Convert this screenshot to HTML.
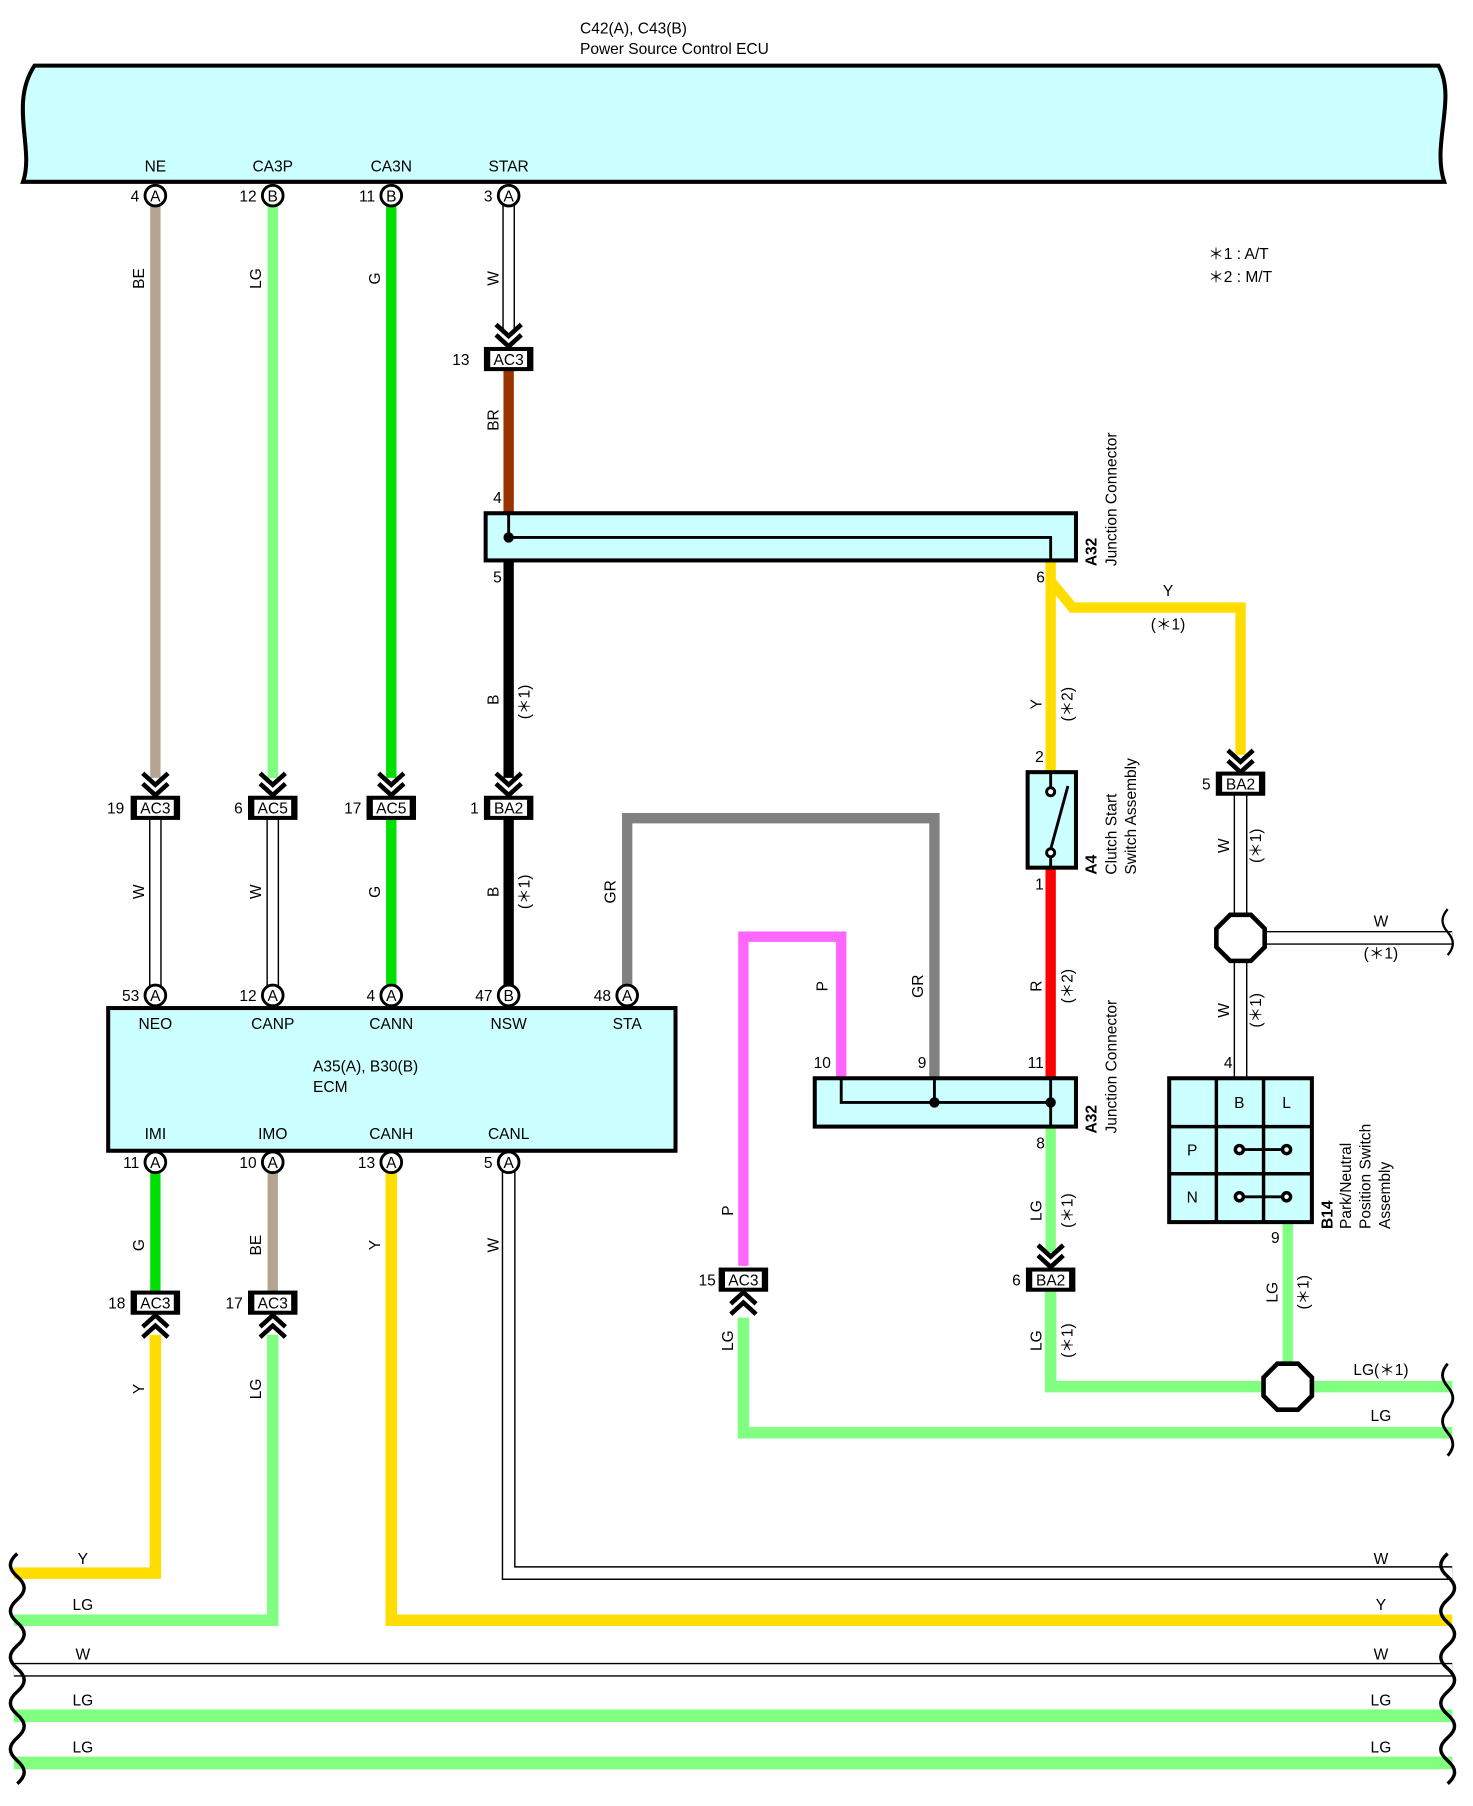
<!DOCTYPE html>
<html><head><meta charset="utf-8"><style>
html,body{margin:0;padding:0;background:#fff;}
svg{display:block;}
text{font-family:"Liberation Sans",sans-serif;font-size:13.5px;fill:#000;}
.c{text-anchor:middle;}
.e{text-anchor:end;}
.b{font-weight:bold;}
</style></head><body>
<svg width="1473" height="1806" viewBox="0 0 1280 1569.4" xmlns="http://www.w3.org/2000/svg">
<defs>
<g id="dn"><path d="M-11,-18 L0,-8 L11,-18 M-11,-9 L0,1 L11,-9" fill="none" stroke="#000" stroke-width="4"/></g>
<g id="up"><path d="M-11,18 L0,8 L11,18 M-11,9 L0,-1 L11,9" fill="none" stroke="#000" stroke-width="4"/></g>
</defs>

<!-- top ECU -->
<path d="M30,57 L1250,57 C1266,85 1244,125 1255,158 L20,158 C30,130 8,90 30,57 Z" fill="#ccffff" stroke="#000" stroke-width="3.5"/>
<text x="504" y="29">C42(A), C43(B)</text>
<text x="504" y="47">Power Source Control ECU</text>
<text x="135" y="149" class="c">NE</text>
<text x="237" y="149" class="c">CA3P</text>
<text x="340" y="149" class="c">CA3N</text>
<text x="442" y="149" class="c">STAR</text>

<text x="1050" y="225">＊1 : A/T</text>
<text x="1050" y="245">＊2 : M/T</text>

<!-- wires top section -->
<g fill="none" stroke-linejoin="miter">
<line x1="135" y1="178" x2="135" y2="676" stroke="#b5a590" stroke-width="9"/>
<line x1="237" y1="178" x2="237" y2="676" stroke="#80ff80" stroke-width="9"/>
<line x1="340" y1="178" x2="340" y2="676" stroke="#00e000" stroke-width="9"/>
<line x1="442" y1="178" x2="442" y2="290" stroke="#000" stroke-width="11"/>
<line x1="442" y1="178" x2="442" y2="290" stroke="#fff" stroke-width="8.5"/>
<line x1="442" y1="322" x2="442" y2="446" stroke="#993300" stroke-width="9"/>
<line x1="442" y1="487" x2="442" y2="676" stroke="#000" stroke-width="9"/>
<line x1="442" y1="711" x2="442" y2="857" stroke="#000" stroke-width="9"/>
<line x1="340" y1="711" x2="340" y2="857" stroke="#00e000" stroke-width="9"/>
<line x1="135" y1="711" x2="135" y2="857" stroke="#000" stroke-width="11"/>
<line x1="135" y1="711" x2="135" y2="857" stroke="#fff" stroke-width="8.5"/>
<line x1="237" y1="711" x2="237" y2="857" stroke="#000" stroke-width="11"/>
<line x1="237" y1="711" x2="237" y2="857" stroke="#fff" stroke-width="8.5"/>
<!-- GR -->
<path d="M545,857 L545,711 L812,711 L812,958" stroke="#808080" stroke-width="9"/>
<!-- P -->
<path d="M646,1100 L646,814 L731,814 L731,958" stroke="#ff66ff" stroke-width="9"/>
<!-- Y -->
<path d="M913,487 L913,670" stroke="#ffdd00" stroke-width="9"/>
<path d="M913,505 L932,528 L1078,528 L1078,656" stroke="#ffdd00" stroke-width="9"/>
<!-- R -->
<line x1="913" y1="754" x2="913" y2="958" stroke="#ff0000" stroke-width="9"/>
<!-- LG right -->
<line x1="913" y1="979" x2="913" y2="1088" stroke="#80ff80" stroke-width="9"/>
<path d="M913,1122 L913,1205 L1262,1205" stroke="#80ff80" stroke-width="10"/>
<line x1="1119" y1="1062" x2="1119" y2="1205" stroke="#80ff80" stroke-width="9"/>
<path d="M646,1145 L646,1245 L1262,1245" stroke="#80ff80" stroke-width="10"/>
<!-- W right -->
<line x1="1078" y1="691" x2="1078" y2="937" stroke="#000" stroke-width="12"/>
<line x1="1078" y1="691" x2="1078" y2="937" stroke="#fff" stroke-width="9.5"/>
<line x1="1078" y1="815" x2="1262" y2="815" stroke="#000" stroke-width="12"/>
<line x1="1078" y1="815" x2="1262" y2="815" stroke="#fff" stroke-width="9.5"/>
<!-- lower ECM wires -->
<line x1="135" y1="1018" x2="135" y2="1122" stroke="#00e000" stroke-width="9"/>
<line x1="237" y1="1018" x2="237" y2="1122" stroke="#b5a590" stroke-width="9"/>
<path d="M135,1160 L135,1367 L12,1367" stroke="#ffdd00" stroke-width="10"/>
<path d="M237,1160 L237,1408 L12,1408" stroke="#80ff80" stroke-width="10"/>
<path d="M340,1018 L340,1408 L1262,1408" stroke="#ffdd00" stroke-width="10"/>
<path d="M442,1018 L442,1367 L1262,1367" stroke="#000" stroke-width="12"/>
<path d="M442,1018 L442,1367 L1262,1367" stroke="#fff" stroke-width="9.5"/>
<line x1="12" y1="1451" x2="1262" y2="1451" stroke="#000" stroke-width="12"/>
<line x1="12" y1="1451" x2="1262" y2="1451" stroke="#fff" stroke-width="9.5"/>
<line x1="12" y1="1491" x2="1262" y2="1491" stroke="#80ff80" stroke-width="11"/>
<line x1="12" y1="1532" x2="1262" y2="1532" stroke="#80ff80" stroke-width="11"/>
</g>
<!-- wavy ends -->
<path d="M15,1350 c-8 7 -8 13 0 20 c8 7 8 13 0 20 c-8 7 -8 13 0 20 c8 7 8 13 0 20 c-8 7 -8 13 0 20 c8 7 8 13 0 20 c-8 7 -8 13 0 20 c8 7 8 13 0 20 c-8 7 -8 13 0 20 c8 7 8 13 0 20" fill="none" stroke="#000" stroke-width="3"/>
<path d="M1258,1350 c-8 7 -8 13 0 20 c8 7 8 13 0 20 c-8 7 -8 13 0 20 c8 7 8 13 0 20 c-8 7 -8 13 0 20 c8 7 8 13 0 20 c-8 7 -8 13 0 20 c8 7 8 13 0 20 c-8 7 -8 13 0 20 c8 7 8 13 0 20" fill="none" stroke="#000" stroke-width="3"/>
<path d="M1258,790 c-6 7 -6 13 0 20 c6 7 6 13 0 20" fill="none" stroke="#000" stroke-width="2"/>
<path d="M1258,1185 c-6 7 -6 13 0 20 c6 7 6 13 0 20 c-6 7 -6 13 0 20 c6 7 6 13 0 20" fill="none" stroke="#000" stroke-width="2.5"/>

<!-- arrows -->
<use href="#dn" x="442" y="300"/>
<use href="#dn" x="135" y="690"/>
<use href="#dn" x="237" y="690"/>
<use href="#dn" x="340" y="690"/>
<use href="#dn" x="442" y="690"/>
<use href="#dn" x="1078" y="670"/>
<use href="#dn" x="913" y="1100"/>
<use href="#up" x="646" y="1124"/>
<use href="#up" x="135" y="1144"/>
<use href="#up" x="237" y="1144"/>

<!-- connector boxes -->
<g stroke="#000">
<g transform="translate(442,312)"><rect x="-21" y="-10" width="42" height="20" fill="#000"/><rect x="-16" y="-7" width="32" height="14" fill="#fff" stroke="none"/></g>
<g transform="translate(135,702)"><rect x="-21" y="-10" width="42" height="20" fill="#000"/><rect x="-16" y="-7" width="32" height="14" fill="#fff" stroke="none"/></g>
<g transform="translate(237,702)"><rect x="-21" y="-10" width="42" height="20" fill="#000"/><rect x="-16" y="-7" width="32" height="14" fill="#fff" stroke="none"/></g>
<g transform="translate(340,702)"><rect x="-21" y="-10" width="42" height="20" fill="#000"/><rect x="-16" y="-7" width="32" height="14" fill="#fff" stroke="none"/></g>
<g transform="translate(442,702)"><rect x="-21" y="-10" width="42" height="20" fill="#000"/><rect x="-16" y="-7" width="32" height="14" fill="#fff" stroke="none"/></g>
<g transform="translate(1078,681)"><rect x="-21" y="-10" width="42" height="20" fill="#000"/><rect x="-16" y="-7" width="32" height="14" fill="#fff" stroke="none"/></g>
<g transform="translate(913,1112)"><rect x="-21" y="-10" width="42" height="20" fill="#000"/><rect x="-16" y="-7" width="32" height="14" fill="#fff" stroke="none"/></g>
<g transform="translate(646,1112)"><rect x="-21" y="-10" width="42" height="20" fill="#000"/><rect x="-16" y="-7" width="32" height="14" fill="#fff" stroke="none"/></g>
<g transform="translate(135,1132)"><rect x="-21" y="-10" width="42" height="20" fill="#000"/><rect x="-16" y="-7" width="32" height="14" fill="#fff" stroke="none"/></g>
<g transform="translate(237,1132)"><rect x="-21" y="-10" width="42" height="20" fill="#000"/><rect x="-16" y="-7" width="32" height="14" fill="#fff" stroke="none"/></g>
</g>
<g class="c">
<text x="442" y="317" class="c">AC3</text><text x="408" y="317" class="e">13</text>
<text x="135" y="707" class="c">AC3</text><text x="108" y="707" class="e">19</text>
<text x="237" y="707" class="c">AC5</text><text x="211" y="707" class="e">6</text>
<text x="340" y="707" class="c">AC5</text><text x="314" y="707" class="e">17</text>
<text x="442" y="707" class="c">BA2</text><text x="416" y="707" class="e">1</text>
<text x="1078" y="686" class="c">BA2</text><text x="1052" y="686" class="e">5</text>
<text x="913" y="1117" class="c">BA2</text><text x="887" y="1117" class="e">6</text>
<text x="646" y="1117" class="c">AC3</text><text x="622" y="1117" class="e">15</text>
<text x="135" y="1137" class="c">AC3</text><text x="109" y="1137" class="e">18</text>
<text x="237" y="1137" class="c">AC3</text><text x="211" y="1137" class="e">17</text>
</g>

<!-- A32 upper -->
<rect x="422" y="446" width="513" height="41" fill="#ccffff" stroke="#000" stroke-width="3.5"/>
<path d="M442,446 L442,467 L913,467 L913,487" fill="none" stroke="#000" stroke-width="2.5"/>
<circle cx="442" cy="467" r="4.5"/>
<text x="436" y="437" class="e">4</text>
<text x="436" y="506" class="e">5</text>
<text x="908" y="506" class="e">6</text>
<text transform="translate(953,492) rotate(-90)" class="b">A32</text>
<text transform="translate(970,492) rotate(-90)">Junction Connector</text>

<!-- A32 lower -->
<rect x="708" y="937" width="227" height="42" fill="#ccffff" stroke="#000" stroke-width="3.5"/>
<path d="M731,937 L731,958 L913,958 M913,937 L913,979 M812,937 L812,958" fill="none" stroke="#000" stroke-width="2.5"/>
<circle cx="812" cy="958" r="4.5"/><circle cx="913" cy="958" r="4.5"/>
<text x="722" y="928" class="e">10</text>
<text x="805" y="928" class="e">9</text>
<text x="907" y="928" class="e">11</text>
<text x="908" y="998" class="e">8</text>
<text transform="translate(953,985) rotate(-90)" class="b">A32</text>
<text transform="translate(970,985) rotate(-90)">Junction Connector</text>

<!-- A4 switch -->
<rect x="893" y="671" width="42" height="83" fill="#ccffff" stroke="#000" stroke-width="3.5"/>
<line x1="913" y1="671" x2="913" y2="684" stroke="#000" stroke-width="2.5"/>
<line x1="913" y1="745" x2="913" y2="754" stroke="#000" stroke-width="2.5"/>
<line x1="913" y1="738" x2="928" y2="683" stroke="#000" stroke-width="2.5"/>
<circle cx="913" cy="688" r="3.5" fill="#fff" stroke="#000" stroke-width="2.5"/>
<circle cx="913" cy="741" r="3.5" fill="#fff" stroke="#000" stroke-width="2.5"/>
<text x="907" y="662" class="e">2</text>
<text x="907" y="773" class="e">1</text>
<text transform="translate(953,760) rotate(-90)" class="b">A4</text>
<text transform="translate(970,760) rotate(-90)">Clutch Start</text>
<text transform="translate(987,760) rotate(-90)">Switch Assembly</text>

<!-- octagons -->
<polygon points="1069,795 1087,795 1099,807 1099,823 1087,835 1069,835 1057,823 1057,807" fill="#fff" stroke="#000" stroke-width="4"/>
<polygon points="1110,1185 1128,1185 1140,1197 1140,1213 1128,1225 1110,1225 1098,1213 1098,1197" fill="#fff" stroke="#000" stroke-width="4"/>

<!-- B14 -->
<rect x="1016" y="937" width="124" height="125" fill="#ccffff" stroke="#000" stroke-width="3.5"/>
<path d="M1057,937 V1062 M1098,937 V1062 M1016,979 H1140 M1016,1020 H1140" stroke="#000" stroke-width="3" fill="none"/>
<text x="1077" y="963" class="c">B</text><text x="1118" y="963" class="c">L</text>
<text x="1036" y="1004" class="c">P</text><text x="1036" y="1045" class="c">N</text>
<g stroke="#000" stroke-width="2.5"><line x1="1077" y1="999" x2="1118" y2="999"/><line x1="1077" y1="1040" x2="1118" y2="1040"/>
<circle cx="1077" cy="999" r="3.5" fill="#fff" stroke-width="3"/><circle cx="1118" cy="999" r="3.5" fill="#fff" stroke-width="3"/>
<circle cx="1077" cy="1040" r="3.5" fill="#fff" stroke-width="3"/><circle cx="1118" cy="1040" r="3.5" fill="#fff" stroke-width="3"/></g>
<text x="1071" y="928" class="e">4</text>
<text x="1112" y="1080" class="e">9</text>
<text transform="translate(1158,1068) rotate(-90)" class="b">B14</text>
<text transform="translate(1174,1068) rotate(-90)">Park/Neutral</text>
<text transform="translate(1191,1068) rotate(-90)">Position Switch</text>
<text transform="translate(1208,1068) rotate(-90)">Assembly</text>

<!-- ECM -->
<rect x="94" y="876" width="493" height="124" fill="#ccffff" stroke="#000" stroke-width="3.5"/>
<text x="135" y="894" class="c">NEO</text><text x="237" y="894" class="c">CANP</text><text x="340" y="894" class="c">CANN</text><text x="442" y="894" class="c">NSW</text><text x="545" y="894" class="c">STA</text>
<text x="272" y="931">A35(A), B30(B)</text><text x="272" y="949">ECM</text>
<text x="135" y="990" class="c">IMI</text><text x="237" y="990" class="c">IMO</text><text x="340" y="990" class="c">CANH</text><text x="442" y="990" class="c">CANL</text>

<!-- pins -->
<g fill="#fff" stroke="#000" stroke-width="2.5">
<circle cx="135" cy="170" r="9"/><circle cx="237" cy="170" r="9"/><circle cx="340" cy="170" r="9"/><circle cx="442" cy="170" r="9"/>
<circle cx="135" cy="865" r="9"/><circle cx="237" cy="865" r="9"/><circle cx="340" cy="865" r="9"/><circle cx="442" cy="865" r="9"/><circle cx="545" cy="865" r="9"/>
<circle cx="135" cy="1010" r="9"/><circle cx="237" cy="1010" r="9"/><circle cx="340" cy="1010" r="9"/><circle cx="442" cy="1010" r="9"/>
</g>
<g style="font-size:12px">
<text x="135" y="175" class="c">A</text><text x="237" y="175" class="c">B</text><text x="340" y="175" class="c">B</text><text x="442" y="175" class="c">A</text>
<text x="135" y="870" class="c">A</text><text x="237" y="870" class="c">A</text><text x="340" y="870" class="c">A</text><text x="442" y="870" class="c">B</text><text x="545" y="870" class="c">A</text>
<text x="135" y="1015" class="c">A</text><text x="237" y="1015" class="c">A</text><text x="340" y="1015" class="c">A</text><text x="442" y="1015" class="c">A</text>
</g>
<text x="121" y="175" class="e">4</text><text x="223" y="175" class="e">12</text><text x="326" y="175" class="e">11</text><text x="428" y="175" class="e">3</text>
<text x="121" y="870" class="e">53</text><text x="223" y="870" class="e">12</text><text x="326" y="870" class="e">4</text><text x="428" y="870" class="e">47</text><text x="531" y="870" class="e">48</text>
<text x="121" y="1015" class="e">11</text><text x="223" y="1015" class="e">10</text><text x="326" y="1015" class="e">13</text><text x="428" y="1015" class="e">5</text>

<!-- rotated wire labels -->
<g class="c">
<text transform="translate(125,242) rotate(-90)">BE</text>
<text transform="translate(227,242) rotate(-90)">LG</text>
<text transform="translate(330,242) rotate(-90)">G</text>
<text transform="translate(433,242) rotate(-90)">W</text>
<text transform="translate(433,365) rotate(-90)">BR</text>
<text transform="translate(433,608) rotate(-90)">B</text>
<text transform="translate(460,610) rotate(-90)">(＊1)</text>
<text transform="translate(125,775) rotate(-90)">W</text>
<text transform="translate(227,775) rotate(-90)">W</text>
<text transform="translate(330,775) rotate(-90)">G</text>
<text transform="translate(433,775) rotate(-90)">B</text>
<text transform="translate(460,775) rotate(-90)">(＊1)</text>
<text transform="translate(535,775) rotate(-90)">GR</text>
<text transform="translate(719,857) rotate(-90)">P</text>
<text transform="translate(802,857) rotate(-90)">GR</text>
<text transform="translate(905,857) rotate(-90)">R</text>
<text transform="translate(932,857) rotate(-90)">(＊2)</text>
<text transform="translate(905,612) rotate(-90)">Y</text>
<text transform="translate(932,612) rotate(-90)">(＊2)</text>
<text transform="translate(1068,735) rotate(-90)">W</text>
<text transform="translate(1096,735) rotate(-90)">(＊1)</text>
<text transform="translate(1068,878) rotate(-90)">W</text>
<text transform="translate(1096,878) rotate(-90)">(＊1)</text>
<text transform="translate(905,1052) rotate(-90)">LG</text>
<text transform="translate(932,1052) rotate(-90)">(＊1)</text>
<text transform="translate(905,1165) rotate(-90)">LG</text>
<text transform="translate(932,1165) rotate(-90)">(＊1)</text>
<text transform="translate(1110,1123) rotate(-90)">LG</text>
<text transform="translate(1137,1123) rotate(-90)">(＊1)</text>
<text transform="translate(637,1052) rotate(-90)">P</text>
<text transform="translate(637,1165) rotate(-90)">LG</text>
<text transform="translate(125,1082) rotate(-90)">G</text>
<text transform="translate(227,1082) rotate(-90)">BE</text>
<text transform="translate(330,1082) rotate(-90)">Y</text>
<text transform="translate(433,1082) rotate(-90)">W</text>
<text transform="translate(125,1207) rotate(-90)">Y</text>
<text transform="translate(227,1207) rotate(-90)">LG</text>
<text x="1015" y="518">Y</text>
<text x="1015" y="547">(＊1)</text>
<text x="1200" y="805">W</text>
<text x="1200" y="833">(＊1)</text>
<text x="1200" y="1195">LG(＊1)</text>
<text x="1200" y="1235">LG</text>
<text x="72" y="1359">Y</text><text x="72" y="1399">LG</text><text x="72" y="1442">W</text><text x="72" y="1482">LG</text><text x="72" y="1523">LG</text>
<text x="1200" y="1359">W</text><text x="1200" y="1399">Y</text><text x="1200" y="1442">W</text><text x="1200" y="1482">LG</text><text x="1200" y="1523">LG</text>
</g>
</svg>
</body></html>
